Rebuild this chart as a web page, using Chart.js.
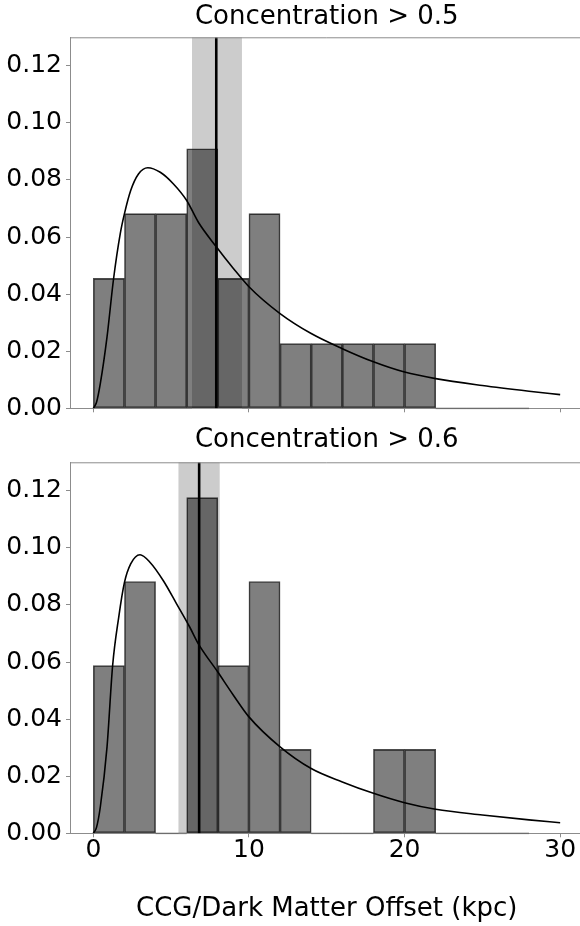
<!DOCTYPE html>
<html>
<head>
<meta charset="utf-8">
<script src="https://cdn.jsdelivr.net/npm/chart.js@4.4.1/dist/chart.umd.min.js"></script>
<style>
  html, body { margin: 0; padding: 0; background: #ffffff; width: 580px; height: 926px; overflow: hidden; }
  #wrap { position: relative; width: 580px; height: 926px; overflow: hidden; }
  canvas { position: absolute; left: 0; }
</style>
</head>
<body>
<div id="wrap">
  <canvas id="c1" width="589" height="430" style="top:0px;width:589px;height:430px"></canvas>
  <canvas id="c2" width="589" height="506" style="top:420px;width:589px;height:506px"></canvas>
</div>
<script>
// ---------------- data ----------------
const titleTop = 'Concentration > 0.5';
const titleBottom = 'Concentration > 0.6';
const xAxisTitle = 'CCG/Dark Matter Offset (kpc)';

const xTicks = [0, 10, 20, 30];
const yTicks = [0, 0.02, 0.04, 0.06, 0.08, 0.10, 0.12];

const binLeft = [0, 2, 4, 6, 8, 10, 12, 14, 16, 18, 20, 22, 24, 26];
const binWidth = 2;

const densityTop    = [0.0455, 0.0682, 0.0682, 0.0909, 0.0455, 0.0682, 0.0227, 0.0227, 0.0227, 0.0227, 0.0227, 0, 0, 0];
const densityBottom = [0.0588, 0.0882, 0, 0.1176, 0.0588, 0.0882, 0.0294, 0, 0, 0.0294, 0.0294, 0, 0, 0];

const curveTopX = [0, 0.2, 0.45, 0.88, 1.3, 1.73, 2.0, 2.4, 2.9, 3.5, 4.3, 5.15, 6.0, 6.75, 7.9, 9, 10, 12, 14, 16, 18, 20, 22, 25, 28, 30];
const curveTopY = [0, 0.002, 0.0087, 0.025, 0.0454, 0.0612, 0.0682, 0.0763, 0.0821, 0.0843, 0.0827, 0.0786, 0.0728, 0.0652, 0.0566, 0.049, 0.0426, 0.0332, 0.0262, 0.0209, 0.0163, 0.0127, 0.0104, 0.0080, 0.0060, 0.0048];

const curveBottomX = [0, 0.2, 0.45, 0.88, 1.24, 1.63, 2.0, 2.4, 3.0, 3.65, 4.5, 5.35, 6.2, 6.75, 8, 9, 10, 12, 14, 16, 18, 20, 22, 25, 28, 30];
const curveBottomY = [0, 0.002, 0.0093, 0.0303, 0.0588, 0.0757, 0.0879, 0.0944, 0.0976, 0.0949, 0.0885, 0.0804, 0.0722, 0.0664, 0.0565, 0.0484, 0.0408, 0.0303, 0.0227, 0.018, 0.014, 0.0107, 0.0084, 0.0064, 0.0047, 0.0037];

const medianTop = 7.9;
const bandTop = [6.34, 9.55];
const medianBottom = 6.8;
const bandBottom = [5.47, 8.12];

const xRange = [-1.5, 31.5];
const yRange = [0, 0.13];

// ---------------- drawing ----------------
const FONT = 'DejaVu Sans';
const AXIS_COLOR = '#8c8c8c';

const decor = {
  id: 'decor',
  beforeDatasetsDraw(chart, args, opts) {
    const {ctx, chartArea: a, scales: {x, y}} = chart;
    ctx.save();
    const l = x.getPixelForValue(opts.band[0]);
    const r = x.getPixelForValue(opts.band[1]);
    ctx.fillStyle = '#cccccc';
    ctx.fillRect(l, a.top, r - l, a.bottom - a.top);
    ctx.strokeStyle = 'rgba(0,0,0,0.22)';
    ctx.lineWidth = 2;
    const y0 = y.getPixelForValue(0);
    opts.density.forEach((d, i) => {
      if (d === 0) {
        ctx.beginPath();
        ctx.moveTo(x.getPixelForValue(binLeft[i]), y0);
        ctx.lineTo(x.getPixelForValue(binLeft[i] + binWidth), y0);
        ctx.stroke();
      }
    });
    ctx.restore();
  },
  afterDraw(chart) {
    const {ctx, chartArea: a} = chart;
    ctx.save();
    ctx.strokeStyle = AXIS_COLOR;
    ctx.lineWidth = 1;
    ctx.beginPath();
    ctx.moveTo(a.left, a.top + 0.5);
    ctx.lineTo(a.right, a.top + 0.5);
    ctx.lineTo(a.right, a.bottom);
    ctx.stroke();
    ctx.restore();
  }
};

function makeChart(id, title, density, cx, cy, median, band, showXLabels, titlePad, xHeight) {
  const bars = binLeft.map((b, i) => ({x: b + binWidth / 2, y: density[i]}));
  const curve = cx.map((v, i) => ({x: v, y: cy[i]}));
  const vline = [{x: median, y: yRange[0]}, {x: median, y: yRange[1]}];
  return new Chart(document.getElementById(id), {
    type: 'bar',
    data: {
      datasets: [
        {
          type: 'line', data: curve, borderColor: '#000000', borderWidth: 1.6,
          pointRadius: 0, cubicInterpolationMode: 'monotone', order: 1
        },
        {
          type: 'line', data: vline, borderColor: '#000000', borderWidth: 2.6,
          pointRadius: 0, order: 2
        },
        {
          type: 'bar', data: bars, backgroundColor: 'rgba(0,0,0,0.5)',
          borderColor: 'rgba(0,0,0,0.7)', borderWidth: 0.9, borderSkipped: false,
          barPercentage: 1, categoryPercentage: 1, order: 3
        }
      ]
    },
    options: {
      responsive: false,
      animation: false,
      devicePixelRatio: 1,
      events: [],
      layout: {padding: {left: 0, right: 5.5, top: 0, bottom: 0}},
      plugins: {
        legend: {display: false},
        tooltip: {enabled: false},
        title: {
          display: true, text: title, fullSize: false, color: '#000000',
          font: {family: FONT, size: 26, weight: 'normal', lineHeight: 1.2},
          padding: titlePad
        },
        decor: {band: band, density: density}
      },
      scales: {
        x: {
          type: 'linear', min: xRange[0], max: xRange[1], offset: false,
          grid: {display: true, drawOnChartArea: false, drawTicks: true, tickLength: 4, color: AXIS_COLOR, offset: false},
          border: {display: true, color: AXIS_COLOR, width: 1},
          ticks: {display: showXLabels, color: '#000000', padding: 0.7, maxRotation: 0,
                  font: {family: FONT, size: 25, lineHeight: 1}},
          afterBuildTicks: s => { s.ticks = xTicks.map(v => ({value: v})); },
          afterFit: s => { s.height = xHeight; },
          title: {
            display: showXLabels, text: xAxisTitle, color: '#000000',
            font: {family: FONT, size: 26, lineHeight: 1.2},
            padding: {top: 0, bottom: 0.7}
          }
        },
        y: {
          type: 'linear', min: yRange[0], max: yRange[1],
          grid: {display: true, drawOnChartArea: false, drawTicks: true, tickLength: 4, color: AXIS_COLOR},
          border: {display: true, color: AXIS_COLOR, width: 1},
          ticks: {color: '#000000', padding: 4, font: {family: FONT, size: 25},
                  callback: v => Number(v).toFixed(2)},
          afterBuildTicks: s => { s.ticks = yTicks.map(v => ({value: v})); },
          afterFit: s => { s.width = 70; }
        }
      }
    },
    plugins: [decor]
  });
}

makeChart('c1', titleTop, densityTop, curveTopX, curveTopY, medianTop, bandTop, false, {top: 2.1, bottom: 4.0}, 21.7);
makeChart('c2', titleBottom, densityBottom, curveBottomX, curveBottomY, medianBottom, bandBottom, true, {top: 5.1, bottom: 6.0}, 92.7);
</script>
</body>
</html>
